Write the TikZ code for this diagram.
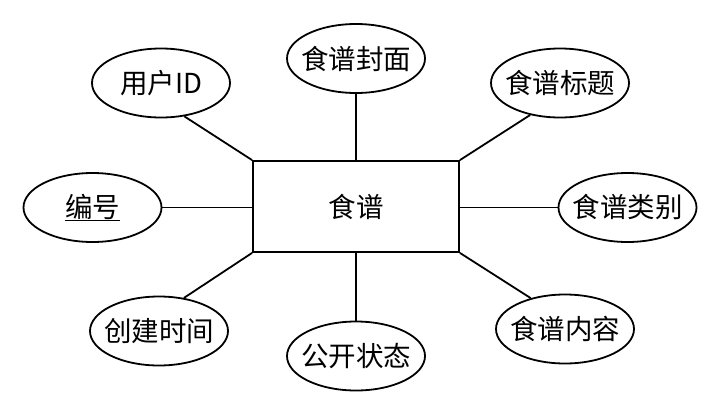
\documentclass[tikz,border=0pt]{standalone}
\usepackage{fontspec}
\setmainfont{Noto Sans CJK SC}
\usetikzlibrary{shapes.geometric}
\begin{document}
\begin{tikzpicture}[x=1pt,y=-1pt,
  attr/.style={draw, ellipse, line width=1.8pt, minimum width=138pt, minimum height=69pt, inner xsep=-22pt, inner ysep=0pt, font=\fontsize{27.5}{30}\selectfont},
  entity/.style={draw, rectangle, line width=1.8pt, minimum width=206pt, minimum height=91pt, inner sep=0pt, font=\fontsize{27.5}{30}\selectfont},
  link/.style={line width=1.8pt}]
\useasboundingbox (0,0) rectangle (722,415);
\node[entity] (r) at (356,206.5) {食谱};
\node[attr] (uid) at (161,83) {用户ID};
\node[attr] (cover) at (356,58.5) {食谱封面};
\node[attr] (title) at (560,83) {食谱标题};
\node[attr] (id) at (92.5,207.5) {\underline{编号}};
\node[attr] (cat) at (627.5,207.5) {食谱类别};
\node[attr] (time) at (159,331) {创建时间};
\node[attr] (pub) at (356,356) {公开状态};
\node[attr] (content) at (565,329) {食谱内容};
\draw[link] (uid.-55) -- (r.north west);
\draw[link] (cover) -- (cover |- r.north);
\draw[link] (title.-133) -- (r.north east);
\draw[link] (id) -- (id -| r.west);
\draw[link] (cat) -- (cat -| r.east);
\draw[link] (time.53) -- (r.south west);
\draw[link] (pub) -- (pub |- r.south);
\draw[link] (content.138) -- (r.south east);
\end{tikzpicture}
\end{document}
